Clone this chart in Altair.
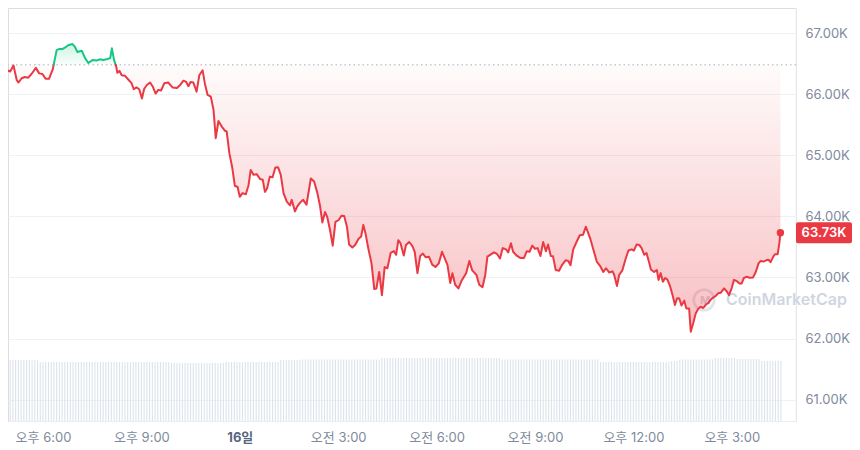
import altair as alt
import pandas as pd

# ---------------- data ----------------
BASELINE = 66480  # dotted reference level (opening price)

# minutes after 00:00 of the 15th
times = [
    1001, 1007, 1015, 1020, 1026, 1032, 1035, 1041, 1047, 1053,
    1059, 1067, 1073, 1079, 1085, 1091, 1098, 1105, 1110, 1116,
    1120, 1126, 1134, 1138, 1143, 1151, 1157, 1163, 1171, 1178,
    1184, 1190, 1198, 1203, 1206, 1210, 1214, 1216, 1220, 1224,
    1230, 1236, 1242, 1246, 1251, 1256, 1261, 1265, 1270, 1276,
    1281, 1286, 1291, 1296, 1302, 1309, 1317, 1325, 1331, 1337,
    1342, 1346, 1350, 1355, 1361, 1366, 1372, 1376, 1381, 1387,
    1392, 1396, 1401, 1407, 1413, 1416, 1421, 1426, 1431, 1436,
    1440, 1445, 1451, 1456, 1460, 1465, 1471, 1477, 1482, 1486,
    1490, 1495, 1500, 1505, 1510, 1515, 1520, 1526, 1532, 1535,
    1541, 1545, 1550, 1556, 1562, 1570, 1576, 1582, 1587, 1591,
    1596, 1600, 1605, 1610, 1615, 1621, 1626, 1631, 1636, 1640,
    1646, 1651, 1657, 1662, 1666, 1670, 1675, 1681, 1686, 1690,
    1695, 1700, 1705, 1710, 1716, 1722, 1726, 1730, 1734, 1740,
    1744, 1750, 1756, 1760, 1765, 1770, 1775, 1780, 1786, 1792,
    1798, 1804, 1810, 1815, 1820, 1825, 1829, 1834, 1840, 1846,
    1854, 1860, 1865, 1873, 1878, 1884, 1889, 1893, 1898, 1905,
    1911, 1916, 1921, 1927, 1931, 1936, 1940, 1946, 1953, 1960,
    1965, 1970, 1975, 1980, 1985, 1990, 1995, 2000, 2004, 2009,
    2013, 2018, 2024, 2030, 2036, 2041, 2045, 2050, 2056, 2062,
    2068, 2073, 2081, 2087, 2093, 2099, 2105, 2110, 2116, 2122,
    2125, 2130, 2134, 2140, 2146, 2151, 2157, 2161, 2166, 2171,
    2175, 2180, 2184, 2189, 2192, 2198, 2203, 2206, 2210, 2214,
    2218, 2222, 2227, 2232, 2236, 2240, 2244, 2248, 2253, 2257,
    2262, 2265, 2270, 2274, 2279, 2283, 2288, 2293, 2297, 2302,
    2306, 2311, 2315, 2320, 2326, 2331, 2335, 2340, 2344, 2349,
    2354, 2358, 2362, 2367, 2373, 2379, 2384, 2389, 2393, 2398,
    2403, 2407, 2411, 2416, 2419, 2424, 2427, 2429,
]
prices = [
    66480, 66440, 66390, 66370, 66470, 66230, 66190, 66260, 66280, 66270,
    66330, 66430, 66340, 66330, 66250, 66250, 66410, 66720, 66740, 66740,
    66760, 66800, 66820, 66780, 66690, 66710, 66590, 66510, 66560, 66550,
    66570, 66560, 66575, 66590, 66750, 66560, 66450, 66350, 66380, 66310,
    66300, 66240, 66180, 66080, 66110, 66080, 65930, 66085, 66150, 66190,
    66120, 66010, 66070, 66060, 66180, 66190, 66110, 66100, 66150, 66220,
    66200, 66130, 66200, 66190, 66040, 66310, 66390, 66180, 65990, 65960,
    65740, 65280, 65560, 65470, 65400, 65390, 65030, 64810, 64500, 64480,
    64320, 64380, 64360, 64510, 64760, 64680, 64690, 64610, 64600, 64400,
    64460, 64650, 64640, 64800, 64805, 64680, 64380, 64240, 64180, 64270,
    64080, 64160, 64220, 64270, 64190, 64620, 64570, 64380, 64160, 63900,
    64070, 63990, 63780, 63520, 63910, 63940, 64010, 64005, 63830, 63540,
    63490, 63530, 63630, 63670, 63860, 63720, 63480, 63230, 62810, 62820,
    63090, 62710, 63170, 63150, 63400, 63430, 63370, 63610, 63560, 63360,
    63530, 63580, 63510, 63420, 63070, 63350, 63390, 63330, 63340, 63210,
    63170, 63230, 63420, 63310, 63200, 62910, 63070, 62880, 62820, 62950,
    63070, 63270, 63120, 63040, 62880, 62840, 63040, 63340, 63370, 63410,
    63380, 63310, 63480, 63460, 63410, 63560, 63420, 63360, 63320, 63320,
    63430, 63420, 63520, 63470, 63480, 63350, 63580, 63430, 63540, 63350,
    63345, 63120, 63110, 63210, 63280, 63270, 63200, 63460, 63580, 63690,
    63700, 63830, 63640, 63450, 63260, 63190, 63090, 63150, 63080, 63100,
    63040, 62860, 63040, 63120, 63310, 63440, 63460, 63440, 63540, 63530,
    63480, 63370, 63400, 63240, 63130, 63090, 63120, 62960, 63070, 62930,
    62990, 62970, 62860, 62700, 62550, 62660, 62655, 62540, 62620, 62490,
    62490, 62110, 62270, 62410, 62490, 62520, 62500, 62560, 62580, 62640,
    62670, 62700, 62740, 62750, 62820, 62770, 62710, 62830, 62960, 62940,
    62900, 62900, 62990, 63010, 62995, 63000, 63090, 63230, 63270, 63260,
    63280, 63290, 63250, 63340, 63380, 63380, 63560, 63730,
]
assert len(times) == len(prices)

tick_minutes = [1080, 1260, 1440, 1620, 1800, 1980, 2160, 2340]
tick_labels = ["오후 6:00", "오후 9:00", "16일", "오전 3:00", "오전 6:00",
               "오전 9:00", "오후 12:00", "오후 3:00"]
price_ticks = [61000, 62000, 63000, 64000, 65000, 66000, 67000]

# volume (billions, hidden axis): level read per stretch of the chart
bar_minutes = list(range(1000, 2431, 5))
vol_break_minutes = [1000, 1075, 1312, 1413, 1514, 1550, 1696, 1916, 2099, 2227, 2245, 2309, 2346, 2392]
vol_levels = [35.4, 34.3, 33.7, 34.3, 35.4, 35.8, 36.6, 35.8, 34.3, 34.9, 35.7, 36.6, 36.0, 34.9]

# ---------------- styling ----------------
RED = "#ea3943"
GREEN = "#16c784"
LABEL = "#808a9d"
GRID = "#eff2f5"
FONT = "Inter, Noto Sans CJK KR, sans-serif"
W, H = 788, 413
TAG_W = 56

# ---------------- build tables ----------------
rows = []
seg = 0
for i, (t, p) in enumerate(zip(times, prices)):
    side = "up" if p > BASELINE else "down"
    if i:
        t0, p0 = times[i - 1], prices[i - 1]
        s0 = "up" if p0 > BASELINE else "down"
        if s0 != side:
            tc = t0 + (BASELINE - p0) * (t - t0) / (p - p0)
            rows.append({"t": tc, "p": BASELINE, "seg": seg, "side": s0})
            seg += 1
            rows.append({"t": tc, "p": BASELINE, "seg": seg, "side": side})
    rows.append({"t": t, "p": p, "seg": seg, "side": side})
line_df = pd.DataFrame(rows)

area_df = line_df.drop_duplicates("t").copy()
area_df["base"] = BASELINE
area_df["lo"] = area_df["p"].clip(upper=BASELINE)
area_df["hi"] = area_df["p"].clip(lower=BASELINE)

vol_vals = []
for bt in bar_minutes:
    lvl = vol_levels[0]
    for bm, lv in zip(vol_break_minutes, vol_levels):
        if bt >= bm:
            lvl = lv
    vol_vals.append(lvl)
vol_df = pd.DataFrame({"t": bar_minutes, "v": vol_vals})

last_df = pd.DataFrame({"t": [times[-1]], "p": [prices[-1]], "b": [BASELINE]})
wm_df = pd.DataFrame({"label": ["CoinMarketCap"], "m": ["M"]})

# ---------------- scales / axes ----------------
xs = alt.Scale(domain=[1016, 2457.5], nice=False, zero=False)
label_expr = "".join(f"datum.value == {m} ? '{l}' : " for m, l in zip(tick_minutes, tick_labels)) + "''"
x_axis = alt.Axis(
    values=tick_minutes, labelExpr=label_expr, title=None, ticks=False, grid=False,
    domain=True, domainColor="#e9edf2", labelPadding=10, labelFontSize=13,
    labelFont=FONT, labelOverlap=False, labelFlush=False,
    labelColor={"condition": {"test": "datum.value == 1440", "value": "#58667e"}, "value": LABEL},
    labelFontWeight={"condition": {"test": "datum.value == 1440", "value": "bold"}, "value": "normal"},
)
X = lambda f="t": alt.X(f"{f}:Q", scale=xs, axis=x_axis)

ys = alt.Scale(domain=[60650, 67410], nice=False, zero=False)
y_axis = alt.Axis(
    orient="right", values=price_ticks, labelExpr="format(datum.value / 1000, '.2f') + 'K'",
    title=None, ticks=False, domain=False, grid=True, gridColor=GRID, gridWidth=1,
    labelPadding=9, labelFontSize=13, labelColor=LABEL, labelFont=FONT,
)
Y = lambda f: alt.Y(f"{f}:Q", scale=ys, axis=y_axis)

# ---------------- layers ----------------
volume = alt.Chart(vol_df).mark_rule(color="#dde3eb", strokeWidth=1.1, clip=True).encode(
    x=X(),
    y=alt.Y("v:Q", scale=alt.Scale(domain=[0, 240], nice=False), axis=None),
    y2=alt.datum(0),
)

border = alt.Chart(last_df).mark_rule(color=GRID, strokeWidth=1).encode(x=alt.value(W))

wm_ring = alt.Chart(wm_df).mark_point(
    shape="circle", filled=False, size=420, strokeWidth=2.6, color="#d3d9e4"
).encode(x=alt.value(696), y=alt.value(292))
wm_m = alt.Chart(wm_df).mark_text(
    font=FONT, fontSize=11, fontWeight="bold", color="#d3d9e4", align="center", baseline="middle"
).encode(x=alt.value(697), y=alt.value(293), text="m:N")
wm_text = alt.Chart(wm_df).mark_text(
    font=FONT, fontSize=16, fontWeight=600, color="#d0d6e1", align="left", baseline="middle"
).encode(x=alt.value(718), y=alt.value(292), text="label:N")

red_area = alt.Chart(area_df).mark_area(
    clip=True,
    color=alt.Gradient(
        gradient="linear",
        stops=[alt.GradientStop(color="rgba(234,57,67,0.02)", offset=0),
               alt.GradientStop(color="rgba(234,57,67,0.32)", offset=1)],
        x1=0, x2=0, y1=0, y2=1,
    ),
).encode(x=X(), y=Y("lo"), y2="base:Q")

green_area = alt.Chart(area_df).mark_area(
    clip=True,
    color=alt.Gradient(
        gradient="linear",
        stops=[alt.GradientStop(color="rgba(22,199,132,0.22)", offset=0),
               alt.GradientStop(color="rgba(22,199,132,0.02)", offset=1)],
        x1=0, x2=0, y1=0, y2=1,
    ),
).encode(x=X(), y=Y("hi"), y2="base:Q")

base_rule = alt.Chart(last_df).mark_rule(
    color="#a9b0bf", strokeWidth=1, strokeDash=[1.5, 3]
).encode(y=Y("b"))

price_line = alt.Chart(line_df).mark_line(
    clip=True, strokeWidth=2, strokeJoin="round", strokeCap="round"
).encode(
    x=X(), y=Y("p"), detail="seg:N",
    color=alt.Color("side:N", scale=alt.Scale(domain=["down", "up"], range=[RED, GREEN]), legend=None),
    order="t:Q",
)

end_dot = alt.Chart(last_df).mark_point(filled=True, size=55, color=RED, opacity=1).encode(x=X(), y=Y("p"))

tag_rect = alt.Chart(last_df).transform_calculate(
    lo="datum.p - 172", hi="datum.p + 172"
).mark_rect(color=RED, cornerRadius=2).encode(
    x=alt.value(W), x2=alt.value(W + TAG_W), y=Y("lo"), y2="hi:Q"
)
tag_text = alt.Chart(last_df).transform_calculate(
    lab="format(datum.p / 1000, '.2f') + 'K'"
).mark_text(
    font=FONT, fontSize=13, fontWeight=600, color="white", align="center", baseline="middle"
).encode(x=alt.value(W + TAG_W / 2), y=Y("p"), text="lab:N")

price_layers = alt.layer(
    border, wm_ring, wm_m, wm_text, red_area, green_area, base_rule,
    price_line, end_dot, tag_rect, tag_text,
)

chart = alt.layer(volume, price_layers).resolve_scale(y="independent").properties(
    width=W, height=H, background="white",
    autosize=alt.AutoSizeParams(type="none"),
    padding={"left": 0, "top": 0, "right": 844 - W, "bottom": 28},
).configure_view(strokeWidth=0).configure(font=FONT)

chart.save("out.html", embed_options={"renderer": "svg", "actions": False})
